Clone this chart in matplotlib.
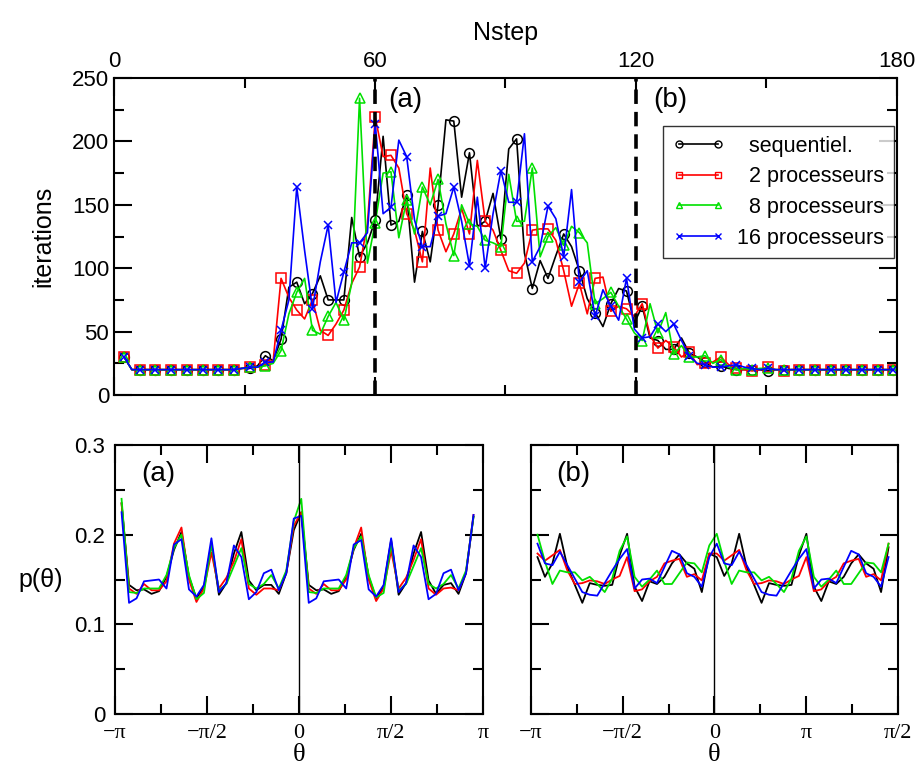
import numpy as np
import matplotlib
matplotlib.use("Agg")
import matplotlib.pyplot as plt
from matplotlib.lines import Line2D
from matplotlib.ticker import MultipleLocator, FuncFormatter

plt.rcParams['font.family'] = ['Liberation Sans', 'DejaVu Sans']

# ---- top panel: iterations vs Nstep (markers on every other point)
nstep = 2.3 + 1.805 * np.arange(99)

iterSeq = [30, 20, 20, 20, 20, 20, 20, 20, 20, 20,
           20, 20, 20, 20, 20, 21, 21, 23, 31, 27,
           44, 85, 89, 72, 80, 94, 75, 75, 75, 140,
           109, 120, 138, 204, 134, 137, 158, 89, 129, 105,
           150, 217, 216, 156, 191, 133, 137, 159, 123, 194,
           202, 112, 84, 106, 92, 110, 127, 117, 98, 76,
           65, 54, 72, 84, 82, 57, 70, 45, 43, 36,
           36, 45, 33, 30, 26, 22, 23, 21, 20, 20,
           20, 20, 19, 20, 20, 20, 20, 20, 20, 20,
           20, 20, 20, 20, 20, 20, 20, 20, 20]
iter2 = [30, 20, 20, 20, 20, 20, 20, 20, 20, 20,
         20, 20, 20, 20, 20, 21, 22, 22, 24, 27,
         92, 77, 67, 60, 75, 51, 47, 56, 67, 88,
         101, 135, 219, 188, 189, 179, 143, 130, 105, 179,
         130, 113, 127, 147, 127, 185, 137, 130, 114, 98,
         96, 104, 130, 131, 131, 122, 98, 70, 88, 64,
         92, 93, 66, 70, 68, 62, 72, 47, 37, 43,
         38, 30, 34, 24, 25, 26, 30, 24, 21, 20,
         19, 20, 22, 20, 19, 20, 20, 20, 20, 20,
         20, 20, 20, 20, 20, 20, 20, 20, 20]
iter8 = [30, 20, 20, 20, 20, 20, 20, 20, 20, 20,
         20, 20, 20, 20, 20, 21, 22, 22, 23, 25,
         35, 64, 81, 92, 51, 48, 62, 73, 59, 88,
         234, 104, 136, 175, 176, 124, 154, 127, 164, 150,
         170, 135, 110, 150, 135, 133, 122, 120, 117, 174,
         137, 137, 179, 109, 125, 132, 118, 133, 128, 120,
         72, 76, 81, 70, 60, 49, 43, 72, 49, 65,
         32, 39, 30, 30, 31, 25, 28, 22, 20, 21,
         20, 21, 21, 20, 20, 20, 20, 20, 20, 20,
         20, 20, 20, 20, 20, 20, 20, 20, 20]
iter16 = [30, 20, 20, 20, 20, 20, 20, 20, 20, 20,
          20, 20, 20, 20, 20, 21, 22, 22, 26, 26,
          51, 75, 164, 114, 68, 105, 134, 73, 97, 120,
          120, 128, 214, 143, 148, 201, 188, 138, 117, 117,
          141, 143, 164, 137, 102, 156, 100, 143, 177, 152,
          152, 206, 105, 117, 149, 139, 109, 162, 89, 98,
          62, 83, 70, 59, 92, 52, 45, 46, 56, 50,
          56, 43, 31, 25, 24, 22, 22, 23, 24, 22,
          21, 20, 21, 20, 20, 20, 20, 20, 20, 20,
          20, 20, 20, 20, 20, 20, 20, 20, 20]

vLinePositions = [60, 120]

# ---- bottom panels: p(theta) at the two Nstep values
theta = np.linspace(-3.03, 2.98, 48)

pSeqA = [0.235, 0.144, 0.138, 0.139, 0.134, 0.137, 0.153, 0.183, 0.203, 0.153, 0.129, 0.142, 0.190,
         0.133, 0.146, 0.179, 0.203, 0.149, 0.138, 0.144, 0.144, 0.134, 0.157, 0.205, 0.225,
         0.144, 0.138, 0.139, 0.134, 0.137, 0.153, 0.183, 0.201, 0.153, 0.129, 0.142, 0.194,
         0.133, 0.146, 0.179, 0.203, 0.149, 0.134, 0.144, 0.146, 0.134, 0.157, 0.220]
p2A = [0.235, 0.140, 0.134, 0.145, 0.138, 0.138, 0.148, 0.190, 0.208, 0.150, 0.125, 0.140, 0.180,
       0.140, 0.152, 0.170, 0.195, 0.140, 0.133, 0.140, 0.140, 0.138, 0.158, 0.210, 0.225,
       0.140, 0.134, 0.145, 0.138, 0.138, 0.150, 0.185, 0.208, 0.150, 0.126, 0.140, 0.182,
       0.140, 0.152, 0.172, 0.195, 0.140, 0.133, 0.140, 0.141, 0.138, 0.158, 0.222]
p8A = [0.240, 0.136, 0.135, 0.140, 0.140, 0.140, 0.155, 0.185, 0.200, 0.155, 0.128, 0.135, 0.190,
       0.138, 0.145, 0.165, 0.185, 0.145, 0.140, 0.145, 0.155, 0.140, 0.160, 0.215, 0.240,
       0.136, 0.135, 0.140, 0.140, 0.140, 0.155, 0.185, 0.198, 0.155, 0.130, 0.135, 0.190,
       0.138, 0.145, 0.165, 0.185, 0.145, 0.140, 0.145, 0.155, 0.140, 0.160, 0.220]
p16A = [0.225, 0.124, 0.129, 0.148, 0.149, 0.150, 0.140, 0.189, 0.195, 0.139, 0.131, 0.144, 0.196,
        0.136, 0.146, 0.188, 0.175, 0.128, 0.136, 0.157, 0.161, 0.138, 0.157, 0.218, 0.221,
        0.124, 0.129, 0.148, 0.149, 0.150, 0.140, 0.189, 0.194, 0.139, 0.131, 0.144, 0.196,
        0.136, 0.146, 0.188, 0.175, 0.128, 0.134, 0.157, 0.161, 0.138, 0.157, 0.222]

pSeqB = [0.175, 0.153, 0.168, 0.201, 0.164, 0.144, 0.124, 0.146, 0.144, 0.143, 0.144, 0.177, 0.201,
         0.142, 0.126, 0.148, 0.145, 0.153, 0.168, 0.178, 0.168, 0.162, 0.136, 0.179, 0.175,
         0.154, 0.168, 0.201, 0.164, 0.144, 0.124, 0.146, 0.144, 0.143, 0.144, 0.177, 0.201,
         0.142, 0.126, 0.148, 0.145, 0.153, 0.168, 0.178, 0.168, 0.162, 0.136, 0.186]
p2B = [0.179, 0.171, 0.177, 0.183, 0.160, 0.145, 0.146, 0.149, 0.148, 0.145, 0.150, 0.154, 0.175,
       0.137, 0.139, 0.148, 0.153, 0.168, 0.171, 0.173, 0.153, 0.156, 0.149, 0.179, 0.179,
       0.171, 0.177, 0.183, 0.160, 0.145, 0.146, 0.149, 0.148, 0.145, 0.150, 0.154, 0.175,
       0.137, 0.139, 0.148, 0.153, 0.168, 0.171, 0.173, 0.153, 0.156, 0.149, 0.190]
p8B = [0.200, 0.170, 0.145, 0.160, 0.158, 0.158, 0.149, 0.153, 0.145, 0.136, 0.151, 0.182, 0.198,
       0.153, 0.142, 0.150, 0.160, 0.145, 0.145, 0.157, 0.169, 0.168, 0.158, 0.188, 0.201,
       0.170, 0.145, 0.160, 0.158, 0.158, 0.149, 0.153, 0.145, 0.136, 0.151, 0.182, 0.198,
       0.153, 0.142, 0.150, 0.160, 0.145, 0.145, 0.157, 0.169, 0.168, 0.158, 0.190]
p16B = [0.190, 0.168, 0.166, 0.181, 0.166, 0.151, 0.136, 0.133, 0.132, 0.146, 0.160, 0.173, 0.184,
        0.140, 0.150, 0.151, 0.146, 0.164, 0.182, 0.178, 0.157, 0.153, 0.142, 0.175, 0.190,
        0.168, 0.166, 0.181, 0.166, 0.151, 0.136, 0.133, 0.132, 0.146, 0.160, 0.173, 0.184,
        0.140, 0.150, 0.151, 0.146, 0.164, 0.182, 0.178, 0.157, 0.153, 0.142, 0.175]

labels = ["\u2007sequentiel.", "\u20072 processeurs", "\u20078 processeurs", "16 processeurs"]
colours = ["black", "#ff0000", "#00e000", "#0000ff"]
markers = ["o", "s", "^", "x"]
thetaTicks = [-np.pi, -np.pi / 2, 0, np.pi / 2, np.pi]
thetaLabelsA = ["\u2212\u03c0", "\u2212\u03c0/2", "0", "\u03c0/2", "\u03c0"]
thetaLabelsB = ["\u2212\u03c0", "\u2212\u03c0/2", "0", "\u03c0", "\u03c0/2"]

# tick shapes
majorLen = 13
minorLen = 7
spineWidth = 1.5
serif = ['Liberation Serif', 'DejaVu Serif']

fig = plt.figure(figsize=(9.18, 7.69), dpi=100)

# ---------------- top panel
ax = fig.add_axes([0.1242, 0.4863, 0.8529, 0.4123])
for y, c, m in zip([iterSeq, iter2, iter8, iter16], colours, markers):
    ax.plot(nstep, y, color=c, lw=1.2, marker=m, markevery=2, mfc='none',
            mec=c, ms=7 if m != 'x' else 6, mew=1.1, clip_on=True)
for pos in vLinePositions:
    ax.axvline(pos, color='black', lw=2.6, ls=(0, (4, 2.2)), zorder=5)
ax.set_xlim(0, 180)
ax.set_ylim(0, 250)
ax.xaxis.set_major_locator(MultipleLocator(60))
ax.xaxis.set_minor_locator(MultipleLocator(30))
ax.yaxis.set_major_locator(MultipleLocator(50))
ax.yaxis.set_minor_locator(MultipleLocator(25))
ax.tick_params(which='both', direction='in', top=True, bottom=True, left=True, right=True,
               labeltop=True, labelbottom=False, labelsize=16, width=spineWidth)
ax.tick_params(which='major', length=majorLen)
ax.tick_params(which='minor', length=minorLen)
ax.tick_params(axis='x', which='major', pad=4)
ax.set_xlabel('Nstep', fontsize=18, labelpad=8)
ax.xaxis.set_label_position('top')
ax.set_ylabel('iterations', fontsize=18, labelpad=12)
ax.text(63, 243, '(a)', fontsize=20, va='top')
ax.text(124, 243, '(b)', fontsize=20, va='top')

handles = [Line2D([], [], color=c, lw=1.2, marker=m, mfc='none', mec=c, ms=5, mew=1.0)
           for c, m in zip(colours, markers)]
leg = ax.legend(handles, labels, loc='upper right', bbox_to_anchor=(0.996, 0.849),
                fontsize=15.5, numpoints=2, handlelength=2.4, frameon=True, fancybox=False,
                edgecolor='black', borderpad=0.45, labelspacing=0.45, handletextpad=0.6,
                borderaxespad=0)
leg.get_frame().set_linewidth(1.0)
for s in ax.spines.values():
    s.set_linewidth(spineWidth)

# ---------------- bottom panels
pFormat = FuncFormatter(lambda v, pos: '0' if abs(v) < 1e-9 else '%.1f' % v)
panels = [
    ([0.1253, 0.0715, 0.4008, 0.3498], [pSeqA, p2A, p8A, p16A], thetaLabelsA, '(a)', True),
    ([0.5784, 0.0715, 0.3998, 0.3498], [pSeqB, p2B, p8B, p16B], thetaLabelsB, '(b)', False),
]
for rect, series, tickLabels, tag, showY in panels:
    bx = fig.add_axes(rect)
    for y, c in zip(series, colours):
        bx.plot(theta, y, color=c, lw=1.3)
    bx.axvline(0, color='black', lw=1.0)
    bx.set_xlim(-np.pi, np.pi)
    bx.set_ylim(0, 0.3)
    bx.set_xticks(thetaTicks)
    bx.set_xticklabels(tickLabels, family=serif, fontsize=19)
    bx.xaxis.set_minor_locator(MultipleLocator(np.pi / 4))
    bx.yaxis.set_major_locator(MultipleLocator(0.1))
    bx.yaxis.set_minor_locator(MultipleLocator(0.05))
    bx.yaxis.set_major_formatter(pFormat)
    bx.tick_params(which='both', direction='in', top=True, bottom=True, left=True, right=True,
                   labelsize=16, width=spineWidth, labelleft=showY)
    bx.tick_params(which='major', length=majorLen)
    bx.tick_params(which='minor', length=minorLen)
    bx.tick_params(axis='x', which='major', pad=7)
    bx.tick_params(axis='y', which='major', pad=7)
    bx.set_xlabel('\u03b8', family=serif, fontsize=19, labelpad=1)
    bx.text(0.07, 0.94, tag, transform=bx.transAxes, fontsize=20, va='top')
    for s in bx.spines.values():
        s.set_linewidth(spineWidth)
    if showY:
        bx.set_ylabel('p(\u03b8)', fontsize=18, rotation=0, labelpad=24, va='center')

fig.savefig('out.png', dpi=100)
